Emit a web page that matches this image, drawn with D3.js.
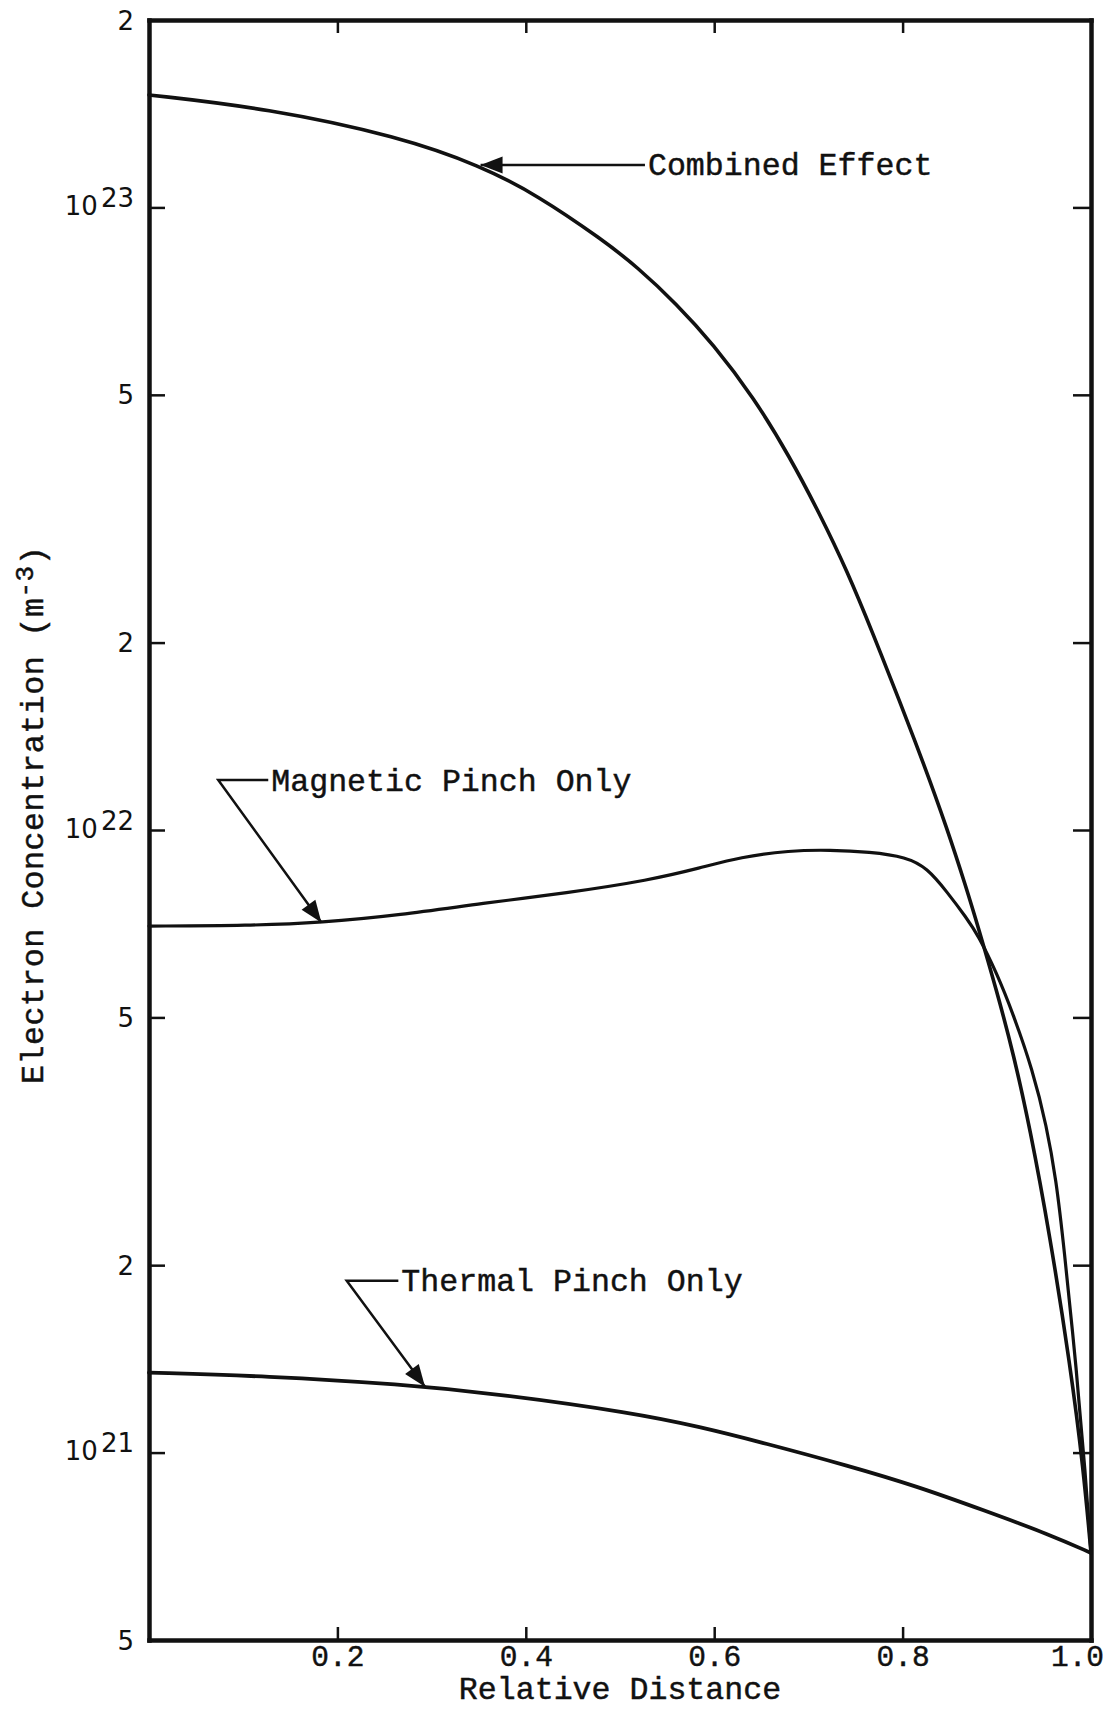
<!DOCTYPE html>
<html>
<head>
<meta charset="utf-8">
<script src="https://cdn.jsdelivr.net/npm/d3@7/dist/d3.min.js"></script>
<style>
  html, body { margin: 0; padding: 0; background: #fff; }
  svg { display: block; }
  .mono { font-family: "Liberation Mono", "Courier New", monospace; fill: #111; stroke: #111; stroke-width: 0.45; }
</style>
</head>
<body>
<svg id="chart" width="1111" height="1710"></svg>
<script>
// ---------------- data ----------------
const combinedX = [0, 0.125, 0.266, 0.352, 0.412, 0.482, 0.518, 0.560, 0.599, 0.642, 0.680, 0.712, 0.741, 0.769, 0.797, 0.822, 0.847, 0.868, 0.880, 0.900, 0.918, 0.935, 0.956, 0.978, 0.992, 1.0];
const combinedY = [1.516e23, 1.443e23, 1.299e23, 1.166e23, 1.047e23, 8.86e22, 8.03e22, 7.00e22, 6.03e22, 4.95e22, 3.98e22, 3.22e22, 2.61e22, 2.06e22, 1.607e22, 1.283e22, 1.008e22, 8.04e21, 7.00e21, 5.51e21, 4.35e21, 3.33e21, 2.25e21, 1.38e21, 9.40e20, 6.9e20];

const magneticX = [0, 0.107, 0.183, 0.266, 0.355, 0.443, 0.532, 0.585, 0.628, 0.680, 0.723, 0.765, 0.804, 0.826, 0.847, 0.868, 0.880, 0.900, 0.917, 0.938, 0.953, 0.963, 0.971, 0.985, 0.994, 1.0];
const magneticY = [7.01e21, 7.02e21, 7.10e21, 7.30e21, 7.63e21, 7.92e21, 8.31e21, 8.69e21, 9.05e21, 9.27e21, 9.29e21, 9.22e21, 9.05e21, 8.69e21, 7.96e21, 7.22e21, 6.78e21, 5.89e21, 5.08e21, 4.12e21, 3.34e21, 2.74e21, 2.16e21, 1.34e21, 9.28e20, 6.9e20];

const thermalX = [0, 0.125, 0.2665, 0.3726, 0.514, 0.585, 0.652, 0.744, 0.815, 0.886, 0.9565, 1.0];
const thermalY = [1.344e21, 1.327e21, 1.288e21, 1.2415e21, 1.158e21, 1.100e21, 1.037e21, 9.51e20, 8.83e20, 8.08e20, 7.38e20, 6.9e20];

const xTickValues = [0.2, 0.4, 0.6, 0.8, 1.0];
const xTickLabels = ["0.2", "0.4", "0.6", "0.8", "1.0"];
const yTickValues = [5e20, 1e21, 2e21, 5e21, 1e22, 2e22, 5e22, 1e23, 2e23];
const yTickBase   = ["5", "10", "2", "5", "10", "2", "5", "10", "2"];
const yTickExp    = ["", "21", "", "", "22", "", "", "23", ""];

const labelTexts = ["Combined Effect", "Magnetic Pinch Only", "Thermal Pinch Only"];
const labelTipX   = [0.352, 0.183, 0.293];
const labelTipY   = [1.17e23, 7.10e21, 1.276e21];
const labelElbowX = [0.352, 0.0735, 0.2099];
const labelElbowY = [1.17e23, 1.203e22, 1.888e21];
const labelEndX   = [0.5265, 0.1266, 0.2647];

const xTitle = "Relative Distance";
const yTitle = "Electron Concentration (m";
const yTitleSup = "-3";

// ---------------- chart ----------------
const svg = d3.select("#chart");
svg.append("rect").attr("width", 1111).attr("height", 1710).attr("fill", "#fff");

const x = d3.scaleLinear().domain([0, 1]).range([149, 1091]);
const y = d3.scaleLog().domain([5e20, 2e23]).range([1640, 20]);

function styleAxis(g) {
  g.select(".domain").attr("stroke", "#111").attr("stroke-width", 4.5).attr("stroke-linecap", "square");
  g.selectAll(".tick line").attr("stroke", "#111").attr("stroke-width", 2.5);
}

// left axis
const gl = svg.append("g").attr("transform", `translate(${x(0)},0)`)
  .call(d3.axisLeft(y).tickValues(yTickValues).tickSizeInner(-16).tickSizeOuter(0).tickPadding(15).tickFormat(() => ""));
styleAxis(gl);
gl.selectAll(".tick text").each(function(d, i) {
  const t = d3.select(this).text(null)
    .attr("font-family", "DejaVu Sans, sans-serif").attr("font-size", 26).attr("fill", "#111")
    .attr("dy", yTickExp[i] ? 7 : 9);
  t.append("tspan").text(yTickBase[i]);
  if (yTickExp[i]) t.append("tspan").attr("dx", 3).attr("dy", -8).text(yTickExp[i]);
});

// right axis
const gr = svg.append("g").attr("transform", `translate(${x(1)},0)`)
  .call(d3.axisRight(y).tickValues(yTickValues).tickSizeInner(-18).tickSizeOuter(0).tickFormat(() => ""));
styleAxis(gr);

// bottom axis
const gb = svg.append("g").attr("transform", `translate(0,${y(5e20)})`)
  .call(d3.axisBottom(x).tickValues(xTickValues).tickSizeInner(-13).tickSizeOuter(0)
    .tickFormat((d, i) => xTickLabels[i]));
styleAxis(gb);
gb.selectAll(".tick text").attr("y", 26).attr("dy", 0)
  .attr("class", "mono").attr("font-size", 29.5)
  .attr("dx", (d, i) => i === xTickValues.length - 1 ? -14 : 0);

// top axis
const gt = svg.append("g").attr("transform", `translate(0,${y(2e23)})`)
  .call(d3.axisTop(x).tickValues(xTickValues.slice(0, 4)).tickSizeInner(-13).tickSizeOuter(0).tickFormat(() => ""));
styleAxis(gt);

// curves
const line = d3.line().x(d => x(d[0])).y(d => y(d[1])).curve(d3.curveBasis);
const series = [
  { xs: combinedX, ys: combinedY, w: 3.6 },
  { xs: magneticX, ys: magneticY, w: 3.2 },
  { xs: thermalX, ys: thermalY, w: 3.8 }
];
series.forEach(s => {
  svg.append("path").datum(d3.zip(s.xs, s.ys))
    .attr("d", line).attr("fill", "none").attr("stroke", "#111")
    .attr("stroke-width", s.w).attr("stroke-linejoin", "round").attr("stroke-linecap", "round");
});

// annotations
labelTexts.forEach((txt, i) => {
  const tip = [x(labelTipX[i]), y(labelTipY[i])];
  const elbow = [x(labelElbowX[i]), y(labelElbowY[i])];
  const end = [x(labelEndX[i]), y(labelElbowY[i])];
  svg.append("path")
    .attr("d", d3.line()([end, elbow, tip]))
    .attr("fill", "none").attr("stroke", "#111").attr("stroke-width", 2.5);
  const from = (Math.abs(elbow[0] - tip[0]) < 0.5 && Math.abs(elbow[1] - tip[1]) < 0.5) ? end : elbow;
  let dx = tip[0] - from[0], dy = tip[1] - from[1];
  const len = Math.hypot(dx, dy); dx /= len; dy /= len;
  const L = 22, Wd = 8.5;
  const bx = tip[0] - dx * L, by = tip[1] - dy * L;
  svg.append("polygon")
    .attr("points", [[tip[0], tip[1]], [bx - dy * Wd, by + dx * Wd], [bx + dy * Wd, by - dx * Wd]].map(p => p.join(",")).join(" "))
    .attr("fill", "#111");
  svg.append("text").attr("class", "mono")
    .attr("x", end[0] + 3).attr("y", end[1] + 10.5)
    .attr("font-size", 31.6).text(txt);
});

// axis titles
svg.append("text").attr("class", "mono")
  .attr("x", x(0.5)).attr("y", 1699).attr("text-anchor", "middle")
  .attr("font-size", 31.6).text(xTitle);

const yt = svg.append("text").attr("class", "mono")
  .attr("transform", "translate(43,1084)rotate(-90)")
  .attr("font-size", 31.6).attr("letter-spacing", 0.5);
yt.append("tspan").text(yTitle);
yt.append("tspan").attr("font-size", 26).attr("dy", -10).text(yTitleSup);
yt.append("tspan").attr("dy", 10).text(")");
</script>
</body>
</html>
